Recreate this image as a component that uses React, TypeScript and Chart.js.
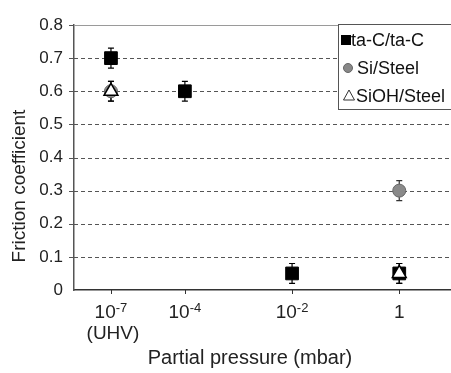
import React, { useEffect, useRef } from "react";
import { Chart, registerables } from "chart.js";

Chart.register(...registerables);

// ---- data ----
const tickBase = ["10", "10", "10", "1"];
const tickExp = ["-7", "-4", "-2", ""];
const tickSub = ["(UHV)", "", "", ""];
const xPositions = [1, 3, 5.9, 8.8];
const xMax = 10.2;

const taC: (number | null)[] = [0.7, 0.6, 0.05, 0.05];
const taCErr = [0.03, 0.03, 0.03, 0.03];
const siSteel: (number | null)[] = [0.6, null, null, 0.3];
const siSteelErr = [0.03, 0, 0, 0.03];
const siohSteel: (number | null)[] = [0.6, null, null, 0.05];
const siohSteelErr = [0.03, 0, 0, 0.03];

const yTicks = [0, 0.1, 0.2, 0.3, 0.4, 0.5, 0.6, 0.7, 0.8];
const yTitle = "Friction coefficient";
const xTitle = "Partial pressure (mbar)";
const seriesNames = ["ta-C/ta-C", "Si/Steel", "SiOH/Steel"];

const FONT = "'Liberation Sans', Arial, sans-serif";
const W = 451;
const H = 373;

if (typeof document !== "undefined") {
  document.documentElement.style.overflow = "hidden";
  document.body.style.margin = "0";
  document.body.style.overflow = "hidden";
}

function toPoints(vals: (number | null)[]) {
  const out: { x: number; y: number }[] = [];
  vals.forEach((v, i) => {
    if (v !== null) out.push({ x: xPositions[i], y: v });
  });
  return out;
}

const errs = [taCErr, siSteelErr, siohSteelErr];
const vals = [taC, siSteel, siohSteel];

const decorPlugin = {
  id: "decor",
  beforeDatasetsDraw(chart: any) {
    const { ctx, chartArea } = chart;
    const x = chart.scales.x;
    const y = chart.scales.y;
    ctx.save();
    yTicks.forEach((t) => {
      if (t === 0) return;
      const py = Math.round(y.getPixelForValue(t)) + 0.5;
      ctx.beginPath();
      if (t === 0.8) {
        ctx.setLineDash([]);
        ctx.strokeStyle = "#9a9a9a";
      } else {
        ctx.setLineDash([4, 3]);
        ctx.strokeStyle = "#555";
      }
      ctx.lineWidth = 1;
      ctx.moveTo(chartArea.left, py);
      ctx.lineTo(W, py);
      ctx.stroke();
      ctx.setLineDash([]);
      ctx.strokeStyle = "#555";
      ctx.beginPath();
      ctx.moveTo(chartArea.left - 5, py);
      ctx.lineTo(chartArea.left, py);
      ctx.stroke();
    });
    ctx.setLineDash([]);
    ctx.strokeStyle = "#333";
    ctx.lineWidth = 1;
    xPositions.forEach((p) => {
      const px = Math.round(x.getPixelForValue(p)) + 0.5;
      ctx.beginPath();
      ctx.moveTo(px, chartArea.bottom);
      ctx.lineTo(px, chartArea.bottom + 4);
      ctx.stroke();
    });
    vals.forEach((series, si) => {
      series.forEach((v, i) => {
        if (v === null) return;
        const e = errs[si][i];
        const px = x.getPixelForValue(xPositions[i]);
        const top = y.getPixelForValue(v + e);
        const bot = y.getPixelForValue(v - e);
        ctx.strokeStyle = si === 1 ? "#333" : "#000";
        ctx.lineWidth = 1.2;
        ctx.beginPath();
        ctx.moveTo(px, top);
        ctx.lineTo(px, bot);
        ctx.moveTo(px - 3, top);
        ctx.lineTo(px + 3, top);
        ctx.moveTo(px - 3, bot);
        ctx.lineTo(px + 3, bot);
        ctx.stroke();
      });
    });
    ctx.restore();
  },
  afterDraw(chart: any) {
    const { ctx } = chart;
    const x = chart.scales.x;
    ctx.save();
    ctx.fillStyle = "#222";
    xPositions.forEach((p, i) => {
      const px = x.getPixelForValue(p);
      ctx.font = `19px ${FONT}`;
      const wb = ctx.measureText(tickBase[i]).width;
      ctx.font = `13px ${FONT}`;
      const we = ctx.measureText(tickExp[i]).width;
      const start = px - (wb + we) / 2;
      ctx.textBaseline = "alphabetic";
      ctx.textAlign = "left";
      ctx.font = `19px ${FONT}`;
      ctx.fillText(tickBase[i], start, 318);
      ctx.font = `13px ${FONT}`;
      ctx.fillText(tickExp[i], start + wb, 312);
      if (tickSub[i]) {
        ctx.font = `19px ${FONT}`;
        ctx.textAlign = "center";
        ctx.fillText(tickSub[i], px + 2, 339);
      }
    });
    ctx.fillStyle = "#222";
    ctx.font = `20px ${FONT}`;
    ctx.textAlign = "center";
    ctx.textBaseline = "middle";
    ctx.fillText(xTitle, 250, 358);
    ctx.font = `19px ${FONT}`;
    ctx.save();
    ctx.translate(20, 186);
    ctx.rotate(-Math.PI / 2);
    ctx.fillText(yTitle, 0, 0);
    ctx.restore();

    const lx = 338.5, ly = 24.5, lw = 130, lh = 85;
    ctx.fillStyle = "#fff";
    ctx.fillRect(lx, ly, lw, lh);
    ctx.strokeStyle = "#555";
    ctx.lineWidth = 1;
    ctx.strokeRect(lx, ly, lw, lh);
    const rowY = [40, 68, 96];
    ctx.font = `18px ${FONT}`;
    ctx.textAlign = "left";
    ctx.textBaseline = "middle";
    ctx.fillStyle = "#000";
    ctx.fillRect(341, rowY[0] - 5, 10, 10);
    ctx.beginPath();
    ctx.arc(348, rowY[1], 4.5, 0, Math.PI * 2);
    ctx.fillStyle = "#888";
    ctx.fill();
    ctx.strokeStyle = "#666";
    ctx.stroke();
    ctx.beginPath();
    ctx.moveTo(349, rowY[2] - 6);
    ctx.lineTo(354.5, rowY[2] + 4);
    ctx.lineTo(343.5, rowY[2] + 4);
    ctx.closePath();
    ctx.strokeStyle = "#333";
    ctx.stroke();
    ctx.fillStyle = "#111";
    const textX = [351, 357, 356];
    seriesNames.forEach((n, i) => ctx.fillText(n, textX[i], rowY[i] + 1));
    ctx.restore();
  },
};

export default function App() {
  const ref = useRef<HTMLCanvasElement | null>(null);
  useEffect(() => {
    const canvas = ref.current!;
    const chart = new Chart(canvas, {
      type: "scatter",
      data: {
        datasets: [
          {
            label: seriesNames[0],
            data: toPoints(taC),
            pointStyle: "rect",
            pointRadius: 9,
            backgroundColor: "#000",
            borderColor: "#000",
            borderWidth: 1,
            order: 2,
          },
          {
            label: seriesNames[1],
            data: toPoints(siSteel),
            pointStyle: "circle",
            pointRadius: 6.5,
            backgroundColor: "#8a8a8a",
            borderColor: "#666",
            borderWidth: 1,
            order: 1,
          },
          {
            label: seriesNames[2],
            data: toPoints(siohSteel),
            pointStyle: "triangle",
            pointRadius: 8,
            backgroundColor: "#fff",
            borderColor: "#000",
            borderWidth: 1.5,
            order: 0,
          },
        ],
      },
      options: {
        animation: false,
        responsive: false,
        devicePixelRatio: 1,
        layout: { padding: 0 },
        plugins: { legend: { display: false }, tooltip: { enabled: false } },
        scales: {
          x: {
            type: "linear",
            min: 0,
            max: xMax,
            grid: { display: false },
            border: { display: true, color: "#333", width: 1.5 },
            ticks: { display: false },
            afterFit: (s: any) => {
              s.height = 83;
            },
          },
          y: {
            min: 0,
            max: 0.8,
            grid: { display: false, drawTicks: false },
            border: { display: true, color: "#555", width: 1.5 },
            afterBuildTicks: (s: any) => {
              s.ticks = yTicks.map((v) => ({ value: v }));
            },
            ticks: {
              padding: 11,
              color: "#222",
              font: { family: FONT, size: 17 },
              callback: (v: any) => (Number(v) === 0 ? "0" : Number(v).toFixed(1)),
            },
            afterFit: (s: any) => {
              s.width = 74;
            },
          },
        },
      },
      plugins: [
        decorPlugin,
        {
          id: "fixArea",
          afterLayout(c: any) {
            c.chartArea.top = 25;
            c.chartArea.right = W;
            c.scales.x.right = W;
            c.scales.x.width = W - c.scales.x.left;
            c.scales.y.top = 25;
            c.scales.y.height = c.scales.y.bottom - 25;
            c.scales.x.configure();
            c.scales.y.configure();
          },
        },
      ],
    });
    return () => chart.destroy();
  }, []);
  return (
    <div style={{ position: "fixed", left: 0, top: 0, width: W, height: H, overflow: "hidden" }}>
      <canvas ref={ref} width={W} height={H} style={{ width: W, height: H, display: "block" }} />
    </div>
  );
}
